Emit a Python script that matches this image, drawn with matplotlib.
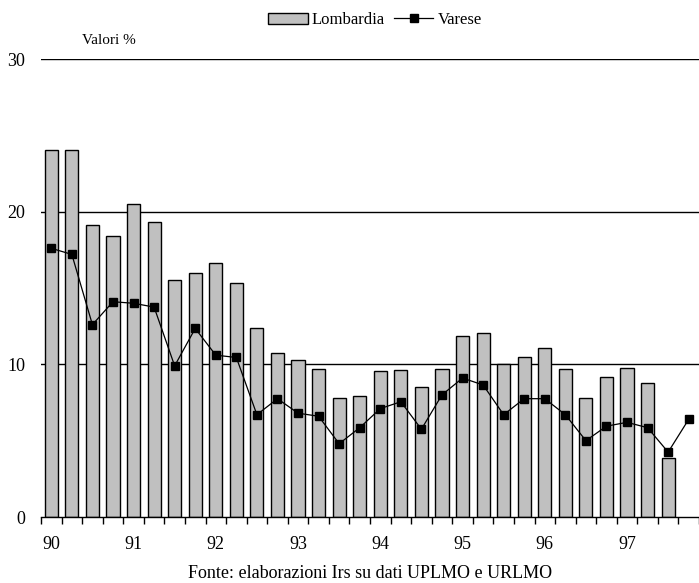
import numpy as np
import matplotlib.pyplot as plt

plt.rcParams['font.family'] = ['Liberation Serif', 'DejaVu Serif']

# Quarterly series 1990-1997
lombardia = [24.05, 24.05, 19.1, 18.4, 20.5, 19.3, 15.5, 15.95, 16.65, 15.35,
             12.4, 10.75, 10.3, 9.7, 7.8, 7.9, 9.55, 9.6, 8.5, 9.7,
             11.85, 12.05, 10.0, 10.45, 11.05, 9.7, 7.8, 9.15, 9.75, 8.75,
             3.85]
varese = [17.6, 17.2, 12.6, 14.1, 14.0, 13.75, 9.9, 12.35, 10.6, 10.45,
          6.7, 7.75, 6.8, 6.6, 4.8, 5.85, 7.1, 7.55, 5.75, 8.0,
          9.1, 8.65, 6.7, 7.75, 7.75, 6.7, 5.0, 5.95, 6.2, 5.85,
          4.25, 6.4]
year_labels = ['90', '91', '92', '93', '94', '95', '96', '97']

fig = plt.figure(figsize=(6.99, 5.83), dpi=100)
ax = fig.add_axes([41 / 699, 1 - 517 / 583, 1 - 41 / 699, (517 - 59) / 583])

n = len(varese)
x_bar = np.arange(len(lombardia))
x_line = np.arange(n)

for y in (10, 20, 30):
    ax.axhline(y, color='black', linewidth=1.0, zorder=0)

bars = ax.bar(x_bar, lombardia, width=0.64, color='#c0c0c0', edgecolor='black',
              linewidth=1.0, label='Lombardia', zorder=2)
line, = ax.plot(x_line, varese, color='black', linewidth=0.9, marker='s',
                markersize=5.5, label='Varese', zorder=3)

ax.set_xlim(-0.5, n - 0.5)
ax.set_ylim(0, 30)

ax.set_xticks(np.arange(0, n, 4))
ax.set_xticklabels(year_labels, fontsize=13)
ax.set_xticks(np.arange(-0.5, n, 1), minor=True)
ax.tick_params(axis='x', which='major', length=0, pad=13.5)
ax.tick_params(axis='x', which='minor', length=5, width=1, direction='out')

ax.set_yticks([0, 10, 20, 30])
ax.set_yticklabels(['0', '10', '20', '30'], fontsize=13)
ax.tick_params(axis='y', length=0, pad=11.5)

for side in ('left', 'right', 'top'):
    ax.spines[side].set_visible(False)
ax.spines['bottom'].set_linewidth(1.0)

fig.text(82 / 699, 1 - 41 / 583, 'Valori %', fontsize=11, va='center')

fig.legend([bars, line], ['Lombardia', 'Varese'], loc='center',
           bbox_to_anchor=(375 / 699, 1 - 20 / 583), ncol=2,
           frameon=False, fontsize=12, handlelength=2.35, handletextpad=0.25,
           columnspacing=0.55, handleheight=0.66, borderpad=0, borderaxespad=0)

fig.text(370 / 699, 1 - 574 / 583, 'Fonte: elaborazioni Irs su dati UPLMO e URLMO',
         fontsize=13, ha='center', va='center')

fig.savefig('out.png', dpi=100)
